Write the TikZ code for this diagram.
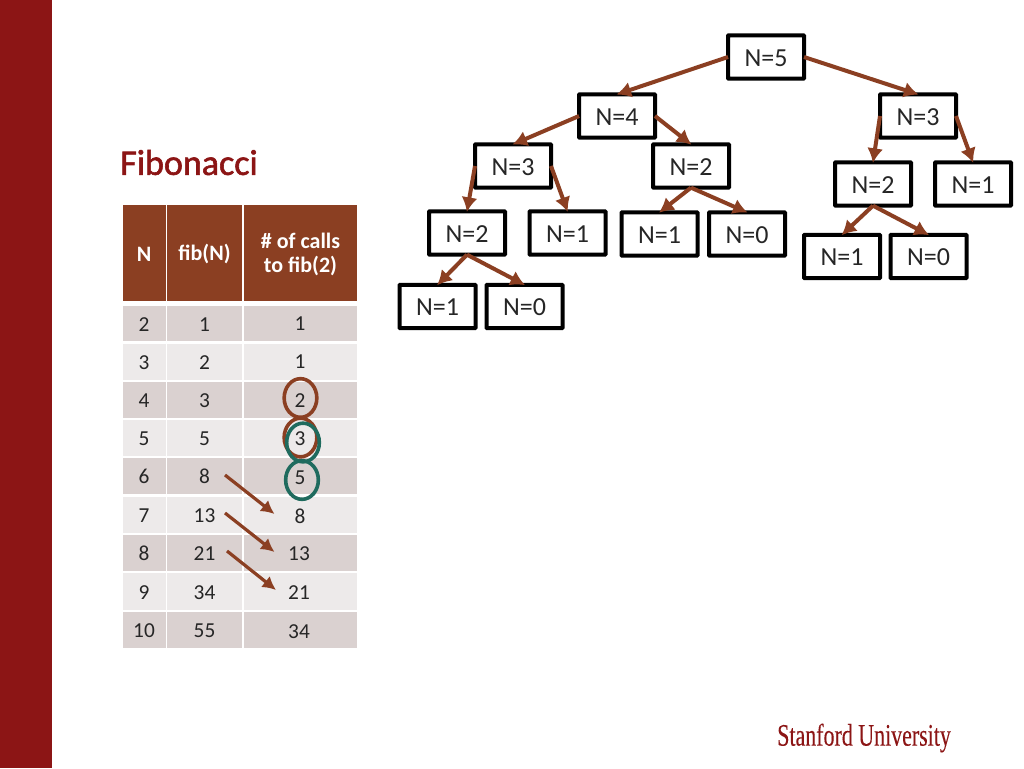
\documentclass[tikz,border=0pt]{standalone}
\usepackage{fontspec}
\setmainfont{Carlito}
\newfontfamily\stanfordfont[FakeStretch=0.7,FakeBold=0.12]{Liberation Serif}
\newfontfamily\titlefont[FakeBold=1.6]{Carlito}
\usetikzlibrary{arrows.meta,shapes.geometric}
\definecolor{cardinal}{HTML}{8C1515}
\definecolor{rust}{HTML}{8B3F22}
\definecolor{teal2}{HTML}{1F6B5E}
\definecolor{rowdark}{HTML}{DAD1D0}
\definecolor{rowlight}{HTML}{EDEAEA}
\tikzset{
  px/.style={x=0.75pt,y=-0.75pt},
  treebox/.style={draw=black,line width=3pt,fill=white,rectangle,rounded corners=0.5pt,minimum width=57pt,minimum height=32.5pt,inner sep=0pt,outer sep=0pt,font=\fontsize{19.5}{22}\selectfont,text=black!85,text height=13.9pt},
  treelink/.style={draw=rust,line width=3pt,-{Latex[length=11pt,width=12pt]},shorten >=-0.5pt},
  cellbox/.style={rectangle,inner sep=0pt,outer sep=0pt,anchor=center,font=\fontsize{16}{18}\selectfont,text=black!85},
  rowcell/.style={cellbox,text height=11.5pt},
  headcell/.style={cellbox,fill=rust},
  headtext/.style={cellbox,text=white,font=\fontsize{16.5}{18}\bfseries\selectfont,align=center},
  ringbrown/.style={draw=rust,line width=2.7pt,ellipse,minimum width=24.5pt,minimum height=29pt,inner sep=0pt},
  ringteal/.style={draw=teal2,line width=2.7pt,ellipse,minimum width=24.5pt,minimum height=29pt,inner sep=0pt},
  steparrow/.style={draw=rust,line width=2.4pt,-{Latex[length=10pt,width=10.5pt]}}
}
% \rowcells{y}{height}{fill}{N}{fib}{id}
\newcommand{\rowcells}[6]{%
  \node[rowcell,fill=#3,minimum width=32.25pt,minimum height=#2*0.75pt] (n#6) at (144,#1) {#4};
  \node[rowcell,fill=#3,minimum width=56.25pt,minimum height=#2*0.75pt] (f#6) at (204.5,#1) {#5};
  \node[rowcell,fill=#3,minimum width=84.75pt,minimum height=#2*0.75pt] (c#6) at (300.5,#1) {};
}
\begin{document}
\begin{tikzpicture}[px]
\useasboundingbox (0,0) rectangle (1024,768);
\fill[white] (0,0) rectangle (1024,768);
\fill[cardinal] (0,0) rectangle (52,768);
\node[anchor=west,inner sep=0pt,text=cardinal,font=\titlefont\fontsize{27}{30}\selectfont] (title) at (120,162.5) {Fibonacci};
% table header
\node[headcell,minimum width=32.25pt,minimum height=72pt] (hn) at (144,253) {};
\node[headcell,minimum width=56.25pt,minimum height=72pt] (hf) at (204.5,253) {};
\node[headcell,minimum width=84.75pt,minimum height=72pt] (hc) at (300.5,253) {};
\node[headtext] (tn) at (144,254) {N};
\node[headtext] (tf) at (204.5,254) {fib(N)};
\node[headtext] (tc) at (300.5,254.5) {\# of calls\\to fib(2)};
\rowcells{323.5}{35}{rowdark}{2}{1}{a}
\rowcells{361.5}{36}{rowlight}{3}{2}{b}
\rowcells{399.5}{36}{rowdark}{4}{3}{c}
\rowcells{438}{36.5}{rowlight}{5}{5}{d}
\rowcells{476}{36.5}{rowdark}{6}{8}{e}
\rowcells{515}{36.5}{rowlight}{7}{13}{f}
\rowcells{553}{36.5}{rowdark}{8}{21}{g}
\rowcells{591.5}{37}{rowlight}{9}{34}{h}
\rowcells{630}{36.5}{rowdark}{10}{55}{i}
% third column values
\node[cellbox] (va) at (300,323.5) {1};
\node[cellbox] (vb) at (300,361.5) {1};
\node[cellbox] (vc) at (300,400.5) {2};
\node[cellbox] (vd) at (300,439) {3};
\node[cellbox] (ve) at (300,478) {5};
\node[cellbox] (vf) at (300,516) {8};
\node[cellbox] (vg) at (299,554) {13};
\node[cellbox] (vh) at (299,593) {21};
\node[cellbox] (vi) at (299,631.5) {34};
% rings
\node[ringbrown] (r1) at (300.5,398) {};
\node[ringbrown] (r2) at (300.5,437.5) {};
\node[ringteal] (t1) at (303,442.5) {};
\node[ringteal] (t2) at (302,480) {};
% diagonal arrows
\coordinate (s1) at (225,475); \coordinate (e1) at (274.5,514);
\coordinate (s2) at (225,513); \coordinate (e2) at (274.5,552);
\coordinate (s3) at (227,551); \coordinate (e3) at (276,590);
\draw[steparrow] (s1) -- (e1);
\draw[steparrow] (s2) -- (e2);
\draw[steparrow] (s3) -- (e3);
% tree
\node[treebox] (n5) at (766,57) {N=5};
\node[treebox] (n4) at (617,116) {N=4};
\node[treebox] (n3r) at (918,116) {N=3};
\node[treebox] (n3l) at (513,166) {N=3};
\node[treebox] (n2m) at (691,166) {N=2};
\node[treebox] (n2r) at (873,184) {N=2};
\node[treebox] (n1r) at (973,184) {N=1};
\node[treebox] (n2l) at (467,233) {N=2};
\node[treebox] (n1a) at (567.5,233) {N=1};
\node[treebox] (n1b) at (659.5,234) {N=1};
\node[treebox] (n0b) at (747,234) {N=0};
\node[treebox] (n1c) at (842,256.5) {N=1};
\node[treebox] (n0c) at (928.5,256.5) {N=0};
\node[treebox] (n1d) at (437.5,306.5) {N=1};
\node[treebox] (n0d) at (524.5,306.5) {N=0};
\draw[treelink] (n5.west) -- (n4.north);
\draw[treelink] (n5.east) -- (n3r.north);
\draw[treelink] (n4.west) -- (n3l.north);
\draw[treelink] (n4.east) -- (n2m.north);
\draw[treelink] (n3r.west) -- (n2r.north);
\draw[treelink] (n3r.east) -- (n1r.north);
\draw[treelink] (n3l.west) -- (n2l.north);
\draw[treelink] (n3l.east) -- (n1a.north);
\draw[treelink] (n2m.south) -- (n1b.north);
\draw[treelink] (n2m.south) -- (n0b.north);
\draw[treelink] (n2r.south) -- (n1c.north);
\draw[treelink] (n2r.south) -- (n0c.north);
\draw[treelink] (n2l.south) -- (n1d.north);
\draw[treelink] (n2l.south) -- (n0d.north);
% wordmark
\node[anchor=west,inner sep=0pt,text=cardinal,font=\stanfordfont\fontsize{23.5}{26}\selectfont] (logo) at (777,738) {Stanford University};
\end{tikzpicture}
\end{document}
